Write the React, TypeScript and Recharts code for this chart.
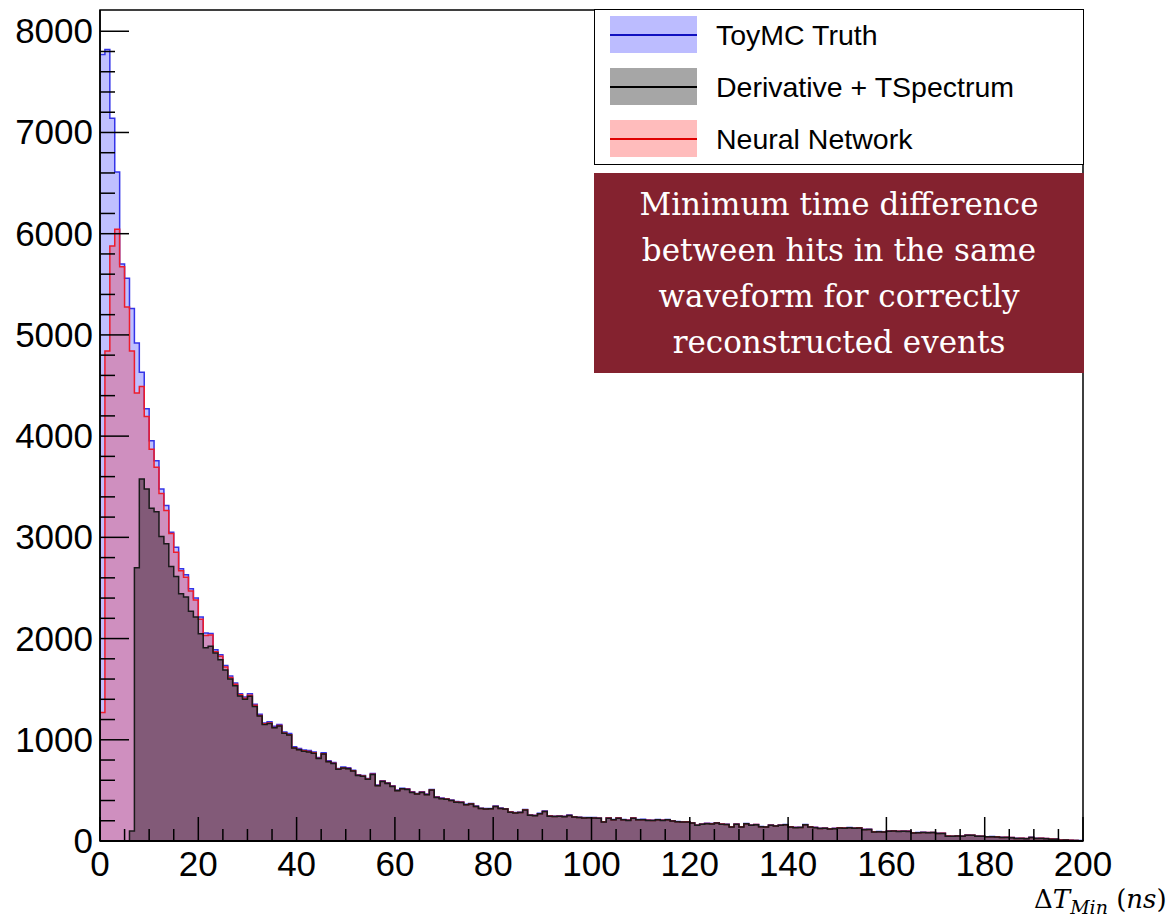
import React from "react";
import {
  Area,
  ComposedChart,
  Legend,
  ReferenceArea,
  XAxis,
  YAxis,
} from "recharts";

// bin contents, 1 ns bins from 0 to 200 ns
const truthCounts = [
  7770, 7820, 7140, 6610, 5700, 5560, 5260, 4920, 4630, 4270,
  3955, 3757, 3478, 3314, 3050, 2902, 2689, 2630, 2492, 2400,
  2212, 2054, 2050, 1890, 1840, 1735, 1630, 1561, 1456, 1423,
  1456, 1351, 1252, 1167, 1177, 1134, 1150, 1078, 1062, 930,
  914, 900, 893, 880, 825, 871, 792, 776, 717, 730,
  724, 700, 655, 648, 618, 667, 553, 596, 576, 546,
  503, 522, 517, 487, 470, 487, 464, 510, 437, 424,
  418, 404, 390, 386, 362, 371, 345, 324, 320, 322,
  345, 325, 319, 289, 281, 285, 312, 258, 254, 273,
  296, 249, 245, 248, 244, 256, 240, 235, 231, 233,
  231, 228, 191, 230, 213, 230, 213, 207, 230, 213,
  214, 207, 206, 213, 207, 213, 201, 193, 190, 191,
  181, 158, 168, 175, 172, 181, 169, 166, 142, 168,
  142, 174, 158, 164, 143, 141, 158, 151, 158, 164,
  142, 135, 136, 164, 142, 135, 126, 128, 122, 125,
  132, 130, 134, 129, 132, 115, 116, 92, 94, 91,
  99, 101, 97, 99, 98, 82, 83, 86, 84, 85,
  76, 77, 50, 48, 51, 49, 59, 58, 49, 48,
  43, 44, 42, 36, 37, 35, 26, 27, 25, 36,
  26, 27, 25, 20, 19, 10, 11, 8, 6, 4,
];

const derivCounts = [
  0, 0, 0, 0, 0, 0, 100, 2700, 3577, 3478,
  3287, 3254, 3008, 2936, 2712, 2613, 2443, 2410, 2271, 2212,
  2048, 1910, 1923, 1857, 1790, 1690, 1600, 1535, 1432, 1400,
  1430, 1330, 1234, 1150, 1160, 1118, 1135, 1064, 1048, 918,
  902, 886, 880, 868, 814, 860, 782, 766, 708, 720,
  715, 691, 646, 640, 610, 657, 546, 588, 568, 539,
  496, 515, 510, 480, 464, 480, 458, 503, 431, 418,
  412, 399, 384, 381, 357, 366, 340, 320, 316, 318,
  340, 320, 315, 285, 277, 281, 307, 254, 250, 269,
  291, 245, 241, 244, 240, 252, 236, 231, 227, 229,
  227, 224, 188, 226, 209, 226, 209, 203, 226, 209,
  210, 203, 202, 209, 203, 209, 197, 189, 187, 188,
  178, 155, 165, 171, 169, 177, 166, 163, 139, 165,
  139, 170, 155, 161, 140, 138, 155, 148, 155, 160,
  139, 132, 133, 160, 139, 132, 123, 125, 119, 122,
  129, 127, 131, 126, 129, 112, 113, 90, 91, 89,
  96, 98, 95, 96, 95, 80, 81, 83, 82, 83,
  74, 75, 48, 46, 49, 47, 57, 56, 47, 46,
  41, 42, 40, 34, 35, 33, 24, 25, 23, 34,
  24, 25, 23, 18, 17, 8, 9, 6, 4, 2,
];

const nnCounts = [
  1270, 4842, 5878, 6045, 5673, 5276, 4842, 4425, 4490, 4195,
  3870, 3692, 3432, 3264, 3037, 2853, 2670, 2605, 2470, 2380,
  2190, 2030, 2035, 1870, 1825, 1720, 1615, 1548, 1445, 1410,
  1440, 1340, 1240, 1158, 1165, 1122, 1140, 1068, 1050, 922,
  905, 892, 885, 872, 818, 862, 785, 768, 711, 722,
  717, 694, 649, 642, 612, 660, 548, 590, 570, 541,
  498, 517, 512, 482, 466, 482, 459, 505, 433, 420,
  414, 400, 386, 382, 358, 367, 342, 321, 317, 319,
  341, 322, 316, 286, 278, 282, 308, 255, 251, 270,
  292, 246, 242, 245, 241, 253, 237, 232, 228, 230,
  228, 225, 189, 227, 210, 227, 210, 204, 227, 210,
  211, 204, 203, 210, 204, 210, 198, 190, 188, 189,
  179, 156, 166, 172, 170, 178, 167, 164, 140, 166,
  140, 171, 156, 162, 141, 139, 156, 149, 156, 161,
  140, 133, 134, 161, 140, 133, 124, 126, 120, 123,
  130, 128, 132, 127, 130, 113, 114, 91, 92, 90,
  97, 99, 96, 97, 96, 81, 82, 84, 83, 84,
  75, 76, 49, 47, 50, 48, 58, 57, 48, 47,
  42, 43, 41, 35, 36, 34, 25, 26, 24, 35,
  25, 26, 24, 19, 18, 9, 10, 7, 5, 3,
];

const xTicks = Array.from({ length: 41 }, (_, i) => i * 5);
const yTicks = Array.from({ length: 41 }, (_, i) => i * 200);
const Y_MAX = 8210;

const legendItems = [
  { name: "ToyMC Truth", fill: "#bcbcff", line: "#1010c0" },
  { name: "Derivative + TSpectrum", fill: "#a6a6a6", line: "#000000" },
  { name: "Neural Network", fill: "#ffbcbc", line: "#e00000" },
];

// stepAfter needs one extra point at the right edge to close the last bin
const data = truthCounts.map((t, i) => ({
  x: i,
  truth: t,
  deriv: derivCounts[i],
  nn: nnCounts[i],
}));
data.push({ x: 200, truth: 0, deriv: 0, nn: 0 });

const sans = "'Liberation Sans', Arial, Helvetica, sans-serif";
const serif = "'DejaVu Serif', serif";

const XTick = (props: any) => {
  const { x, y, payload } = props;
  const v = payload.value;
  const major = v % 20 === 0;
  return (
    <g>
      <line x1={x} x2={x} y1={y} y2={y - (major ? 24 : 12)} stroke="#000" strokeWidth={1.5} />
      {major && (
        <text x={x} y={y + 35} textAnchor="middle" fontSize={35} fontFamily={sans} fill="#000">
          {v}
        </text>
      )}
    </g>
  );
};

const YTick = (props: any) => {
  const { x, y, payload } = props;
  const v = payload.value;
  const major = v % 1000 === 0;
  return (
    <g>
      <line x1={x} x2={x + (major ? 29 : 15)} y1={y} y2={y} stroke="#000" strokeWidth={1.5} />
      {major && (
        <text x={x - 7} y={y + 12} textAnchor="end" fontSize={35} fontFamily={sans} fill="#000">
          {v}
        </text>
      )}
    </g>
  );
};

const LegendBox = () => (
  <div
    style={{
      width: 490,
      height: 156,
      border: "1.5px solid #000",
      background: "#fff",
      boxSizing: "border-box",
      position: "relative",
      fontFamily: sans,
    }}
  >
    {legendItems.map((item, i) => (
      <div key={item.name} style={{ position: "absolute", left: 0, top: 6 + i * 52, height: 38, width: "100%" }}>
        <div
          style={{
            position: "absolute",
            left: 15,
            top: 0,
            width: 87,
            height: 37,
            background: item.fill,
          }}
        >
          <div style={{ position: "absolute", left: 0, right: 0, top: 18, height: 1.5, background: item.line }} />
        </div>
        <div
          style={{
            position: "absolute",
            left: 121,
            top: 0,
            lineHeight: "38px",
            fontSize: 28.5,
            color: "#000",
            whiteSpace: "nowrap",
          }}
        >
          {item.name}
        </div>
      </div>
    ))}
  </div>
);

export default function App() {
  return (
    <div style={{ position: "absolute", left: 0, top: 0, width: 1171, height: 924, background: "#fff" }}>
      <ComposedChart
        width={1171}
        height={924}
        data={data}
        margin={{ top: 10, right: 88, bottom: 0, left: 0 }}
      >
        <XAxis
          dataKey="x"
          type="number"
          domain={[0, 200]}
          ticks={xTicks}
          interval={0}
          height={83}
          tickSize={0}
          tickMargin={0}
          tickLine={false}
          tick={<XTick />}
          axisLine={{ stroke: "#000", strokeWidth: 2 }}
        />
        <YAxis
          type="number"
          domain={[0, Y_MAX]}
          ticks={yTicks}
          interval={0}
          width={100}
          tickSize={0}
          tickMargin={0}
          tickLine={false}
          tick={<YTick />}
          allowDataOverflow
          axisLine={{ stroke: "#000", strokeWidth: 1.5 }}
        />
        <Area
          type="stepAfter"
          dataKey="truth"
          stroke="#3434e8"
          strokeWidth={1.5}
          fill="#0000ff"
          fillOpacity={0.25}
          isAnimationActive={false}
          dot={false}
          activeDot={false}
        />
        <Area
          type="stepAfter"
          dataKey="nn"
          stroke="#ee1c2c"
          strokeWidth={1.5}
          fill="#ff0000"
          fillOpacity={0.25}
          isAnimationActive={false}
          dot={false}
          activeDot={false}
        />
        <Area
          type="stepAfter"
          dataKey="deriv"
          stroke="#1a1a1a"
          strokeWidth={1.5}
          fill="#000000"
          fillOpacity={0.37}
          isAnimationActive={false}
          dot={false}
          activeDot={false}
        />
        <ReferenceArea
          x1={0}
          x2={200}
          y1={0}
          y2={Y_MAX}
          fill="none"
          fillOpacity={0}
          stroke="#000"
          strokeWidth={1.5}
          ifOverflow="visible"
        />
        <Legend
          layout="horizontal"
          verticalAlign="middle"
          content={() => <LegendBox />}
          wrapperStyle={{ position: "absolute", top: 9, left: 594, width: 490, height: 156 }}
        />
      </ComposedChart>

      <div
        style={{
          position: "absolute",
          left: 594,
          top: 173,
          width: 490,
          height: 200,
          background: "#84222f",
          color: "#fff",
          fontFamily: serif,
          fontSize: 31,
          lineHeight: "46px",
          textAlign: "center",
          paddingTop: 8,
          boxSizing: "border-box",
        }}
      >
        Minimum time difference
        <br />
        between hits in the same
        <br />
        waveform for correctly
        <br />
        reconstructed events
      </div>

      <div
        style={{
          position: "absolute",
          left: 1034,
          top: 884,
          fontFamily: serif,
          fontSize: 26,
          color: "#000",
          whiteSpace: "nowrap",
        }}
      >
        Δ<i>T</i>
        <sub style={{ fontSize: 19 }}>
          <i>Min</i>
        </sub>{" "}
        (<i>ns</i>)
      </div>
    </div>
  );
}
